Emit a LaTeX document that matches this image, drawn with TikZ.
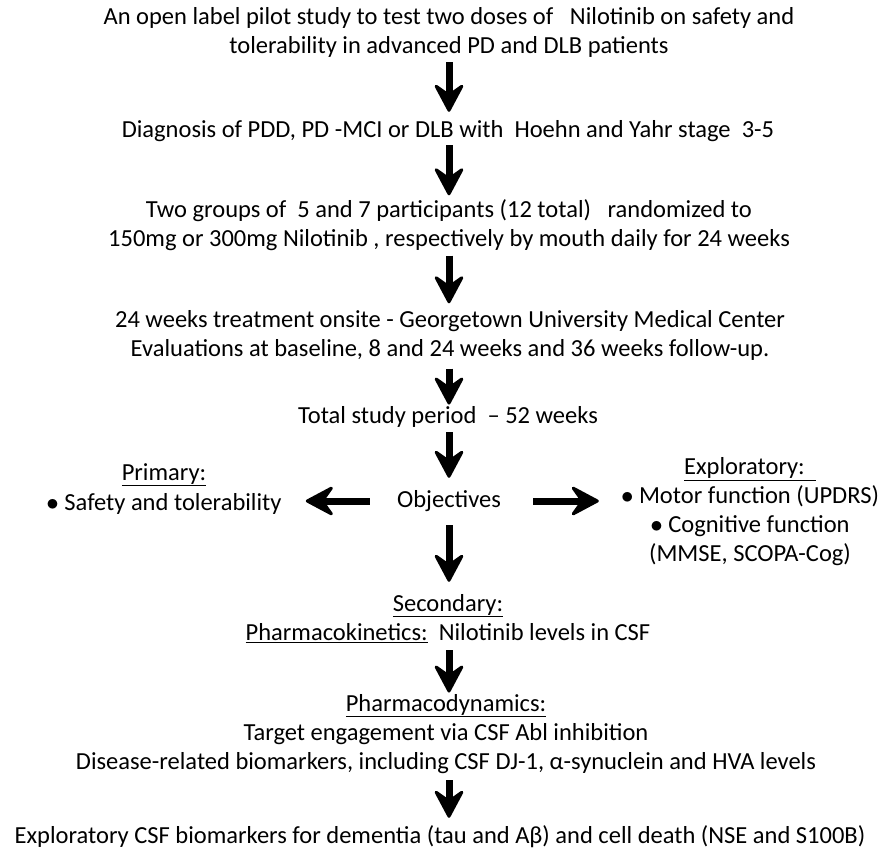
\documentclass[tikz,border=0pt]{standalone}
\usepackage{fontspec}
\setmainfont{Carlito}
\usetikzlibrary{arrows.meta}
\newcommand\topst{\rule{0pt}{18.4pt}}
\newcommand\botst{\rule[-6.1pt]{0pt}{6.1pt}}
\begin{document}
\begin{tikzpicture}[x=1pt,y=-1pt,
  txt/.style={inner sep=0pt,align=center,font=\fontsize{24.5}{29}\selectfont},
  fat/.style={line width=7pt,-{Stealth[length=32pt,width=34pt,inset=12pt,line width=3pt,round]}}]
\useasboundingbox (0,0) rectangle (881,855);
\node[txt] (t1) at (449,32.5) {\topst An open label pilot study to test two doses of \ \ Nilotinib on safety and\\tolerability in advanced PD and DLB patients\botst};
\node[txt] (t2) at (448,131) {\topst Diagnosis of PDD, PD -MCI or DLB with \ Hoehn and Yahr stage \ 3-5\botst};
\node[txt] (t3) at (449,226) {\topst Two groups of \ 5 and 7 participants (12 total) \ \ randomized to\\150mg or 300mg Nilotinib , respectively by mouth daily for 24 weeks\botst};
\node[txt] (t4) at (450,336) {\topst 24 weeks treatment onsite - Georgetown University Medical Center\\Evaluations at baseline, 8 and 24 weeks and 36 weeks follow-up.\botst};
\node[txt] (t5) at (448,417) {\topst Total study period \ -- 52 weeks\botst};
\node[txt] (obj) at (449,501) {\topst Objectives\botst};
\node[txt] (prim) at (164,489) {\topst\underline{Primary:}\\[1pt]$\bullet$ Safety and tolerability\botst};
\node[txt] (expl) at (750,512) {\topst\underline{Exploratory:\ \ }\\$\bullet$ Motor function (UPDRS)\\$\bullet$ Cognitive function\\(MMSE, SCOPA-Cog)\botst};
\node[txt] (sec) at (448,619.5) {\topst\underline{Secondary:}\\\underline{Pharmacokinetics:}\ \ Nilotinib levels in CSF\botst};
\node[txt] (pd) at (446,734) {\topst\underline{Pharmacodynamics:}\\Target engagement via CSF Abl inhibition\\Disease-related biomarkers, including CSF DJ-1, α-synuclein and HVA levels\botst};
\node[txt] (t9) at (440,837) {\topst Exploratory CSF biomarkers for dementia (tau and Aβ) and cell death (NSE and S100B)\botst};
\draw[fat,shorten <=2.75pt,shorten >=6.75pt] (t1.south -| obj) -- (t2.north -| obj);
\draw[fat,shorten <=1.75pt,shorten >=3.75pt] (t2.south -| obj) -- (t3.north -| obj);
\draw[fat,shorten <=2.75pt,shorten >=5.75pt] (t3.south -| obj) -- (t4.north -| obj);
\draw[fat,shorten <=5.75pt,shorten >=0pt] (t4.south -| obj) -- (t5.north -| obj);
\draw[fat,shorten <=2.75pt,shorten >=10.75pt] (t5.south -| obj) -- (obj.north);
\draw[fat,shorten <=11.75pt,shorten >=10.75pt] (obj.south) -- (sec.north -| obj);
\draw[fat,shorten <=3.75pt,shorten >=0pt] (sec.south -| obj) -- (pd.north -| obj);
\draw[fat,shorten <=4.75pt,shorten >=6.75pt] (pd.south -| obj) -- (t9.north -| obj);
\draw[fat,shorten <=27pt,shorten >=24pt] (obj.west) -- (obj.west -| prim.east);
\draw[fat,shorten <=32pt,shorten >=22pt] (obj.east) -- (obj.east -| expl.west);
\end{tikzpicture}
\end{document}
